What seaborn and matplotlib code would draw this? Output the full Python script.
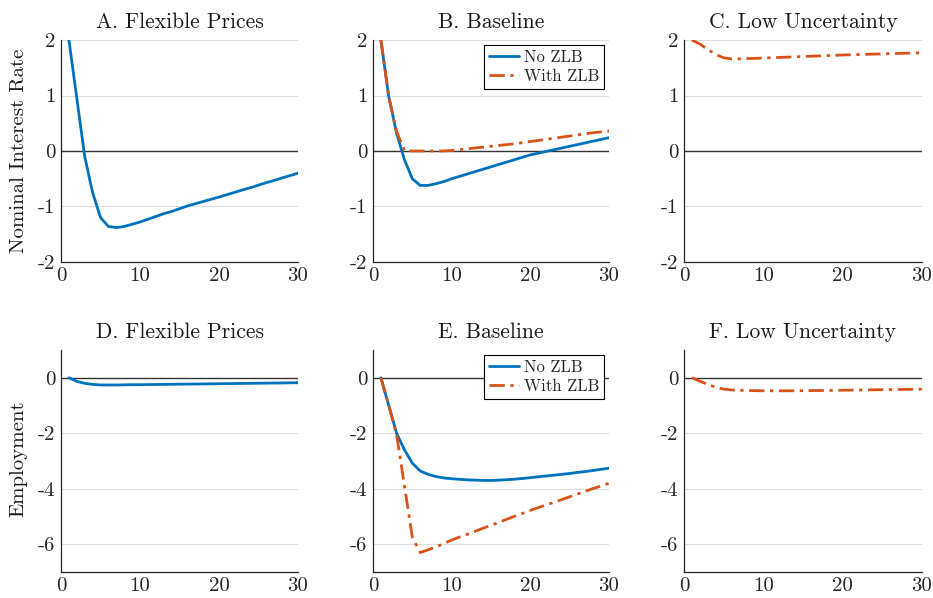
import matplotlib
matplotlib.use("Agg")
import matplotlib.pyplot as plt
import numpy as np
import pandas as pd
import seaborn as sns

periods = list(range(1, 31))

# nominal interest rate responses
rate_flex = [2.00, 0.95, -0.10, -0.75, -1.20, -1.36, -1.38, -1.36, -1.32, -1.28,
             -1.23, -1.18, -1.13, -1.09, -1.04, -0.99, -0.95, -0.91, -0.87, -0.83,
             -0.787, -0.744, -0.70, -0.66, -0.615, -0.57, -0.53, -0.485, -0.443, -0.40]
rate_base_nozlb = [2.00, 0.98, 0.32, -0.16, -0.50, -0.62, -0.62, -0.59, -0.55, -0.50,
                   -0.457, -0.414, -0.371, -0.328, -0.285, -0.242, -0.199, -0.156, -0.113, -0.07,
                   -0.039, -0.008, 0.023, 0.054, 0.085, 0.116, 0.147, 0.178, 0.209, 0.24]
rate_base_zlb = [2.00, 0.98, 0.35, 0.00, 0.00, 0.00, 0.00, 0.00, 0.00, 0.01,
                 0.025, 0.04, 0.055, 0.07, 0.085, 0.10, 0.115, 0.13, 0.15, 0.17,
                 0.19, 0.21, 0.23, 0.25, 0.27, 0.29, 0.31, 0.33, 0.345, 0.36]
rate_lowunc = [2.00, 1.93, 1.83, 1.74, 1.68, 1.66, 1.66, 1.665, 1.67, 1.675,
               1.68, 1.686, 1.691, 1.697, 1.702, 1.708, 1.713, 1.719, 1.724, 1.73,
               1.734, 1.738, 1.742, 1.746, 1.75, 1.754, 1.758, 1.762, 1.766, 1.77]

# employment responses
emp_flex = [0.0, -0.13, -0.20, -0.24, -0.26, -0.26, -0.26, -0.255, -0.25, -0.25,
            -0.246, -0.243, -0.239, -0.236, -0.232, -0.229, -0.225, -0.222, -0.218, -0.215,
            -0.211, -0.208, -0.204, -0.201, -0.197, -0.194, -0.19, -0.187, -0.183, -0.18]
emp_base_nozlb = [0.0, -1.0, -2.0, -2.6, -3.08, -3.36, -3.48, -3.56, -3.61, -3.64,
                  -3.66, -3.68, -3.69, -3.70, -3.70, -3.69, -3.675, -3.655, -3.63, -3.60,
                  -3.57, -3.54, -3.51, -3.48, -3.45, -3.41, -3.38, -3.34, -3.30, -3.26]
emp_base_zlb = [0.0, -1.0, -2.05, -3.9, -5.75, -6.3, -6.2, -6.1, -5.97, -5.85,
                -5.74, -5.64, -5.53, -5.42, -5.32, -5.21, -5.10, -4.99, -4.89, -4.78,
                -4.68, -4.58, -4.49, -4.39, -4.29, -4.19, -4.09, -3.99, -3.90, -3.80]
emp_lowunc = [0.0, -0.12, -0.24, -0.34, -0.41, -0.44, -0.45, -0.46, -0.465, -0.47,
              -0.47, -0.47, -0.47, -0.468, -0.465, -0.462, -0.46, -0.457, -0.454, -0.45,
              -0.446, -0.442, -0.438, -0.434, -0.43, -0.426, -0.422, -0.418, -0.414, -0.41]

titles = ["A. Flexible Prices", "B. Baseline", "C. Low Uncertainty",
          "D. Flexible Prices", "E. Baseline", "F. Low Uncertainty"]
row_labels = ["Nominal Interest Rate", "Employment"]

BLUE = "#0072BD"
ORANGE = "#D95319"
DASHDOT = (0, (5.5, 2.0, 1.2, 2.0))

sns.set_theme(style="white")
plt.rcParams["font.family"] = ["cmr10", "DejaVu Serif"]
plt.rcParams["axes.formatter.use_mathtext"] = True

fig = plt.figure(figsize=(9.33, 5.98), dpi=100)

lefts = [0.0654, 0.3998, 0.733]
widths = [0.254, 0.253, 0.255]
bottoms = [0.5619, 0.0435]
height = 0.3712

panels = [
    [(rate_flex, BLUE, "-", None)],
    [(rate_base_nozlb, BLUE, "-", "No ZLB"), (rate_base_zlb, ORANGE, DASHDOT, "With ZLB")],
    [(rate_lowunc, ORANGE, DASHDOT, None)],
    [(emp_flex, BLUE, "-", None)],
    [(emp_base_nozlb, BLUE, "-", "No ZLB"), (emp_base_zlb, ORANGE, DASHDOT, "With ZLB")],
    [(emp_lowunc, ORANGE, DASHDOT, None)],
]

for i, series in enumerate(panels):
    row, col = divmod(i, 3)
    ax = fig.add_axes([lefts[col], bottoms[row], widths[col], height])

    if row == 0:
        ylim, yticks = (-2, 2), [-2, -1, 0, 1, 2]
    else:
        ylim, yticks = (-7, 1), [-6, -4, -2, 0]

    for yt in yticks:
        if yt != 0:
            ax.axhline(yt, color="#dcdcdc", lw=0.8, zorder=0)
    ax.axhline(0, color="#333333", lw=1.0, zorder=1)

    for vals, color, ls, label in series:
        df = pd.DataFrame({"period": periods, "value": vals})
        sns.lineplot(data=df, x="period", y="value", ax=ax, color=color,
                     linestyle=ls, lw=2.0, label=label, legend=False, zorder=3)

    ax.set_xlim(0, 30)
    ax.set_ylim(*ylim)
    ax.set_xticks([0, 10, 20, 30])
    ax.set_xticklabels(["0", "10", "20", "30"])
    ax.set_yticks(yticks)
    ax.set_yticklabels([str(v) for v in yticks])
    ax.tick_params(axis="x", direction="in", length=4, width=0.8, color="#262626",
                   labelsize=15, pad=4, labelcolor="#262626")
    ax.tick_params(axis="y", length=0, labelsize=15, pad=4, labelcolor="#262626")
    ax.set_xlabel("")
    ax.set_ylabel("")
    for side in ["top", "right"]:
        ax.spines[side].set_visible(False)
    for side in ["left", "bottom"]:
        ax.spines[side].set_color("#262626")
        ax.spines[side].set_linewidth(0.9)
    ax.set_title(titles[i], fontsize=15.5, pad=9, color="#1a1a1a")

    if col == 0:
        ax.set_ylabel(row_labels[row], fontsize=15, color="#1a1a1a")
        ax.yaxis.set_label_coords(-0.14, 0.5 if row == 0 else 0.51)
    if col == 1:
        leg = ax.legend(loc="upper right", fontsize=12, frameon=True, fancybox=False,
                        framealpha=1, edgecolor="black", borderaxespad=0.3,
                        handlelength=1.75, handletextpad=0.3, borderpad=0.3,
                        labelspacing=0.2)
        leg.get_frame().set_linewidth(0.8)

fig.savefig("out.png", dpi=100)
